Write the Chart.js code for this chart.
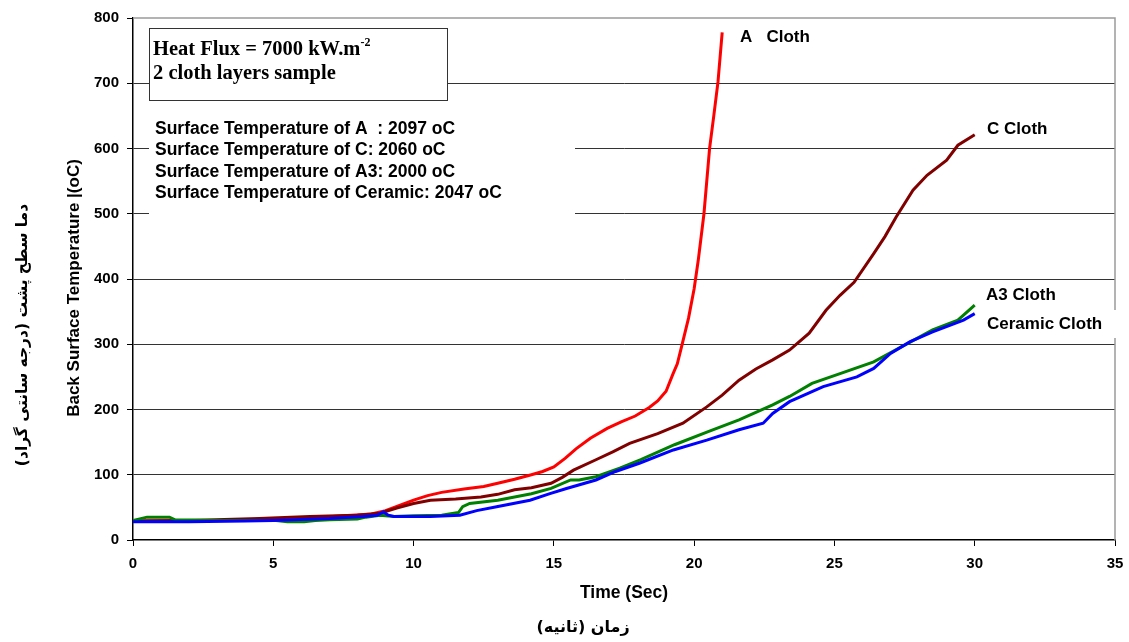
<!DOCTYPE html>
<html>
<head>
<meta charset="utf-8">
<script src="https://cdn.jsdelivr.net/npm/chart.js@4/dist/chart.umd.min.js"></script>
<style>
  html, body { margin: 0; padding: 0; background: #fff; }
  #wrap { width: 1129px; height: 642px; }
</style>
</head>
<body>
<div id="wrap"><canvas id="c" width="1129" height="642"></canvas></div>
<script>
// ---- data ----
const xTicks = [0, 5, 10, 15, 20, 25, 30, 35];
const yTicks = [0, 100, 200, 300, 400, 500, 600, 700, 800];

const timeA = [0, 2, 4, 5.5, 6.5, 7.5, 8.5, 9.0, 9.5, 10.0, 10.5, 11.0, 11.8, 12.5, 13.0, 13.6, 14.2, 14.6, 15.0, 15.4, 15.8, 16.3, 16.9, 17.4, 17.9, 18.4, 18.7, 19.0, 19.25, 19.4, 19.55, 19.8, 20.0, 20.15, 20.35, 20.55, 20.7, 20.85, 21.0];
const tempA = [29, 30, 30, 31, 34, 37, 40, 45, 53, 61, 68, 73, 78, 82, 87, 93, 100, 105, 112, 125, 140, 156, 171, 181, 190, 203, 213, 228, 255, 270, 296, 340, 385, 430, 500, 600, 650, 702, 778];

const timeC = [0, 2, 4.5, 6.3, 8.0, 8.8, 9.4, 10.0, 10.6, 11.5, 12.4, 13.0, 13.6, 14.2, 14.9, 15.3, 15.7, 16.5, 17.1, 17.7, 18.7, 19.6, 20.45, 21.0, 21.6, 22.2, 22.8, 23.4, 24.1, 24.7, 25.2, 25.7, 26.4, 26.8, 27.2, 27.8, 28.3, 29.0, 29.4, 30.0];
const tempC = [29, 30, 33, 36, 38, 41, 49, 56, 61, 63, 66, 70, 77, 80, 87, 96, 107, 123, 135, 148, 163, 179, 204, 222, 245, 262, 276, 291, 317, 352, 375, 395, 439, 465, 495, 536, 559, 582, 605, 621];

const timeA3 = [0, 0.5, 1.3, 1.5, 3, 5.1, 5.5, 6.1, 6.5, 7.0, 8.0, 8.3, 8.8, 9.3, 10, 11.0, 11.6, 11.75, 12.0, 13.0, 14.2, 14.9, 15.6, 15.9, 16.5, 17.35, 18.1, 19.3, 20.5, 21.6, 22.8, 23.4, 24.2, 25.2, 26.4, 27.6, 28.5, 29.4, 30.0];
const tempA3 = [30, 35, 35, 31, 30, 30, 28, 28, 30, 31, 32, 35, 38, 36, 37, 38, 42, 51, 56, 61, 71, 79, 92, 92, 97, 110, 123, 146, 166, 184, 207, 220, 240, 255, 273, 301, 322, 337, 360];

const timeCer = [0, 2, 4, 5, 7, 8.2, 8.7, 8.92, 9.1, 9.3, 10.6, 11.65, 12.25, 12.96, 14.15, 14.86, 15.45, 16.5, 17.2, 18.07, 19.26, 20.45, 21.6, 22.46, 22.8, 23.4, 24.6, 25.8, 26.4, 27.0, 27.7, 28.5, 29.6, 30.0];
const tempCer = [28, 28, 29, 30, 33, 36, 38, 43, 38, 36, 36, 38, 45, 51, 61, 71, 79, 92, 105, 118, 138, 153, 169, 179, 194, 212, 235, 250, 263, 286, 304, 319, 337, 347];

const seriesNames = ['A   Cloth', 'C Cloth', 'A3 Cloth', 'Ceramic Cloth'];
const infoLines = [
  'Surface Temperature of A  : 2097 oC',
  'Surface Temperature of C: 2060 oC',
  'Surface Temperature of A3: 2000 oC',
  'Surface Temperature of Ceramic: 2047 oC'
];
const xTitle = 'Time (Sec)';
const xTitleFa = 'زمان (ثانیه)';
const yTitle = 'Back Surface Temperature |(oC)';
const yTitleFa = 'دما سطح پشت (درجه سانتی گراد)';

// ---- build ----
function pts(t, v) { return t.map((x, i) => ({ x: x, y: v[i] })); }

const SANS = '"Liberation Sans", Arial, sans-serif';
const SERIF = '"Liberation Serif", "Times New Roman", serif';
const FA = '"DejaVu Sans", sans-serif';

const deco = {
  id: 'deco',
  beforeDatasetsDraw(chart) {
    const { ctx, chartArea: a } = chart;
    ctx.save();
    ctx.strokeStyle = '#9a9a9a';
    ctx.lineWidth = 1.5;
    ctx.beginPath();
    ctx.moveTo(a.left, a.top);
    ctx.lineTo(a.right, a.top);
    ctx.lineTo(a.right, a.bottom);
    ctx.stroke();
    ctx.restore();
  },
  afterDatasetsDraw(chart) {
    const { ctx, chartArea: a } = chart;
    ctx.save();
    // info block background
    ctx.fillStyle = '#fff';
    ctx.fillRect(149, 112, 426, 110);
    // heat flux box
    ctx.fillRect(149.5, 28.5, 298, 72);
    ctx.strokeStyle = '#333';
    ctx.lineWidth = 1;
    ctx.strokeRect(149.5, 28.5, 298, 72);
    ctx.fillStyle = '#000';
    ctx.textBaseline = 'alphabetic';
    ctx.textAlign = 'left';
    ctx.font = 'bold 20.5px ' + SERIF;
    const t1 = 'Heat Flux = 7000 kW.m';
    ctx.fillText(t1, 153, 55);
    const w1 = ctx.measureText(t1).width;
    ctx.font = 'bold 12px ' + SERIF;
    ctx.fillText('-2', 153 + w1, 46);
    ctx.font = 'bold 20.5px ' + SERIF;
    ctx.fillText('2 cloth layers sample', 153, 78.5);
    // info lines
    ctx.font = 'bold 17.5px ' + SANS;
    const base = [134, 154.5, 176.5, 198];
    infoLines.forEach((s, i) => ctx.fillText(s, 155, base[i]));
    // series labels
    ctx.font = 'bold 17px ' + SANS;
    ctx.fillText(seriesNames[0], 740, 41.5);
    ctx.fillText(seriesNames[1], 987, 134);
    ctx.fillText(seriesNames[2], 986, 300);
    ctx.fillStyle = '#fff';
    ctx.fillRect(984, 310, 140, 28);
    ctx.fillStyle = '#000';
    ctx.fillText(seriesNames[3], 987, 328.5);
    // axis titles
    ctx.font = 'bold 17.5px ' + SANS;
    ctx.textAlign = 'center';
    ctx.fillText(xTitle, (a.left + a.right) / 2, 598);
    ctx.font = 'bold 16px ' + FA;
    ctx.fillText(xTitleFa, 583, 632);
    ctx.save();
    ctx.translate(79, 288);
    ctx.rotate(-Math.PI / 2);
    ctx.font = 'bold 17px ' + SANS;
    ctx.fillText(yTitle, 0, 0);
    ctx.restore();
    ctx.save();
    ctx.translate(27, 335);
    ctx.rotate(-Math.PI / 2);
    ctx.font = 'bold 15.5px ' + FA;
    ctx.direction = 'rtl';
    ctx.fillText(yTitleFa, 0, 0);
    ctx.restore();
    ctx.restore();
  }
};

new Chart(document.getElementById('c'), {
  type: 'line',
  data: {
    datasets: [
      { label: seriesNames[0], data: pts(timeA, tempA), borderColor: '#ff0000', order: 4 },
      { label: seriesNames[1], data: pts(timeC, tempC), borderColor: '#800000', order: 3 },
      { label: seriesNames[2], data: pts(timeA3, tempA3), borderColor: '#008000', order: 2 },
      { label: seriesNames[3], data: pts(timeCer, tempCer), borderColor: '#0000ff', order: 1 }
    ]
  },
  options: {
    responsive: false,
    animation: false,
    layout: { padding: { left: 0, right: 14, top: 18, bottom: 0 } },
    plugins: { legend: { display: false }, tooltip: { enabled: false } },
    elements: {
      point: { radius: 0 },
      line: { borderWidth: 3, tension: 0, fill: false }
    },
    scales: {
      x: {
        type: 'linear',
        min: xTicks[0], max: xTicks[xTicks.length - 1],
        afterBuildTicks(s) { s.ticks = xTicks.map(v => ({ value: v })); },
        ticks: { color: '#000', font: { family: SANS, size: 15, weight: 'bold' }, padding: 9, maxRotation: 0 },
        grid: { drawOnChartArea: false, tickLength: 6, color: '#000' },
        border: { color: '#000', width: 1.5 },
        afterFit(s) { s.height = 102; s.paddingLeft = 0; s.paddingRight = 0; }
      },
      y: {
        min: yTicks[0], max: yTicks[yTicks.length - 1],
        afterBuildTicks(s) { s.ticks = yTicks.map(v => ({ value: v })); },
        ticks: { color: '#000', font: { family: SANS, size: 15, weight: 'bold' }, padding: 8 },
        grid: {
          tickLength: 6,
          tickColor: '#000',
          color: c => (c.tick && (c.tick.value === 800 || c.tick.value === 0)) ? 'rgba(0,0,0,0)' : '#333'
        },
        border: { color: '#000', width: 1.5 },
        afterFit(s) { s.width = 133; s.paddingTop = 0; s.paddingBottom = 0; }
      }
    }
  },
  plugins: [deco]
});
</script>
</body>
</html>
